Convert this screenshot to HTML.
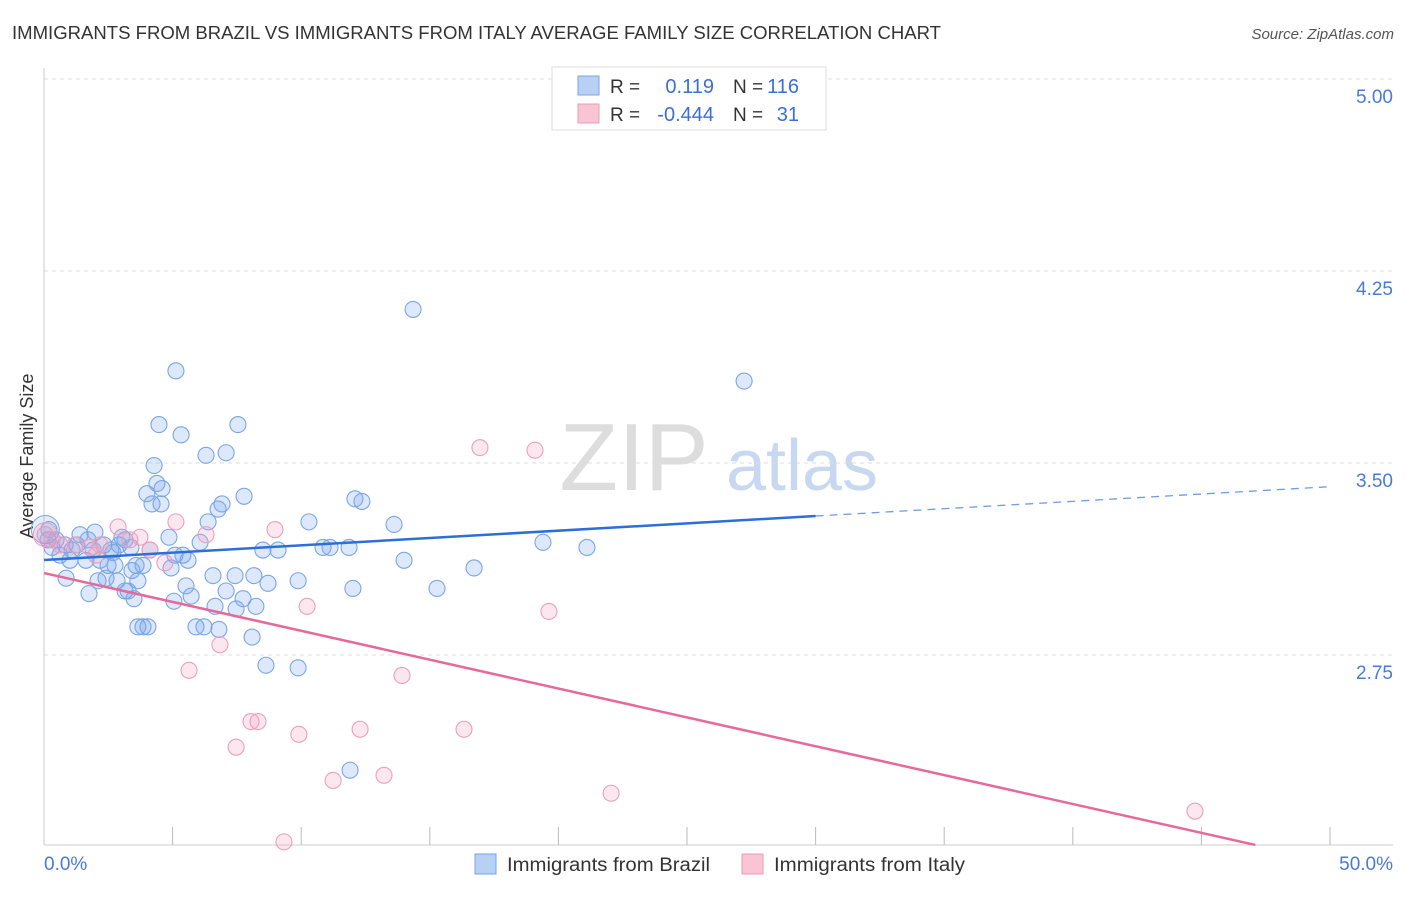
<!DOCTYPE html>
<html><head><meta charset="utf-8"><style>
body{margin:0;background:#fff;font-family:"Liberation Sans",sans-serif;}
svg text{font-family:"Liberation Sans",sans-serif;}
</style></head><body>
<svg id="chart" width="1406" height="892" viewBox="0 0 1406 892" xmlns="http://www.w3.org/2000/svg">
<text x="12" y="39" font-size="18" fill="#333" textLength="929" lengthAdjust="spacingAndGlyphs">IMMIGRANTS FROM BRAZIL VS IMMIGRANTS FROM ITALY AVERAGE FAMILY SIZE CORRELATION CHART</text>
<text x="1394" y="39" font-size="15" fill="#555" text-anchor="end" font-style="italic">Source: ZipAtlas.com</text>
<g>
<text x="634" y="490" font-size="96" fill="#ddd" text-anchor="middle" font-family="Liberation Serif, serif">ZIP</text>
<text x="802" y="490" font-size="72" fill="#c8d8f0" text-anchor="middle">atlas</text>
</g>
<text transform="translate(33,456) rotate(-90)" font-size="18" fill="#333" text-anchor="middle">Average Family Size</text>
<g id="grid"></g>
<g id="marks"></g>
<g>
<rect x="552" y="67" width="274" height="63" fill="#fff" stroke="#ddd"/>
<rect x="578" y="76" width="21" height="19" fill="#b8d0f4" stroke="#7aa4e4"/>
<rect x="578" y="104" width="21" height="19" fill="#f9c4d4" stroke="#ec9cb6"/>
<text x="610" y="93" font-size="19" fill="#333">R =</text>
<text x="714" y="93" font-size="20" fill="#3b6fd6" text-anchor="end">0.119</text>
<text x="733" y="93" font-size="19" fill="#333">N =</text>
<text x="799" y="93" font-size="20" fill="#3b6fd6" text-anchor="end">116</text>
<text x="610" y="121" font-size="19" fill="#333">R =</text>
<text x="714" y="121" font-size="20" fill="#3b6fd6" text-anchor="end">-0.444</text>
<text x="733" y="121" font-size="19" fill="#333">N =</text>
<text x="799" y="121" font-size="20" fill="#3b6fd6" text-anchor="end">31</text>
</g>
<g>
<rect x="475" y="854" width="21" height="20" fill="#b8d0f4" stroke="#7aa4e4"/>
<text x="507" y="871" font-size="19" fill="#333" textLength="203" lengthAdjust="spacingAndGlyphs">Immigrants from Brazil</text>
<rect x="742" y="854" width="21" height="20" fill="#f9c4d4" stroke="#ec9cb6"/>
<text x="774" y="871" font-size="19" fill="#333" textLength="191" lengthAdjust="spacingAndGlyphs">Immigrants from Italy</text>
</g>
</svg>
<script>
const yTicks=[5.00,4.25,3.50,2.75];
const yTickLabels=["5.00","4.25","3.50","2.75"];
const xTickCount=10;
const xLabels=["0.0%","50.0%"];
const brazilX=[14.35,5.13,27.22,7.54,4.47,5.33,7.08,6.30,4.28,4.39,4.00,4.59,7.78,4.20,4.55,6.92,6.77,12.09,12.36,6.38,10.30,13.61,4.86,19.40,21.11,0.19,0.47,0.82,1.09,1.40,1.71,1.98,2.33,2.60,2.92,3.15,3.38,4.12,5.09,5.40,6.07,8.51,9.10,10.85,11.12,11.86,14.00,16.72,0.62,1.01,1.63,2.18,2.49,2.76,3.58,3.85,4.94,5.60,0.86,2.10,2.41,2.84,3.27,3.65,3.42,6.57,7.43,8.16,9.88,12.01,15.28,8.71,5.52,7.08,1.75,3.15,3.50,5.05,5.72,6.65,7.47,7.74,8.24,3.65,3.85,4.04,5.91,6.22,6.80,8.09,8.63,9.88,11.90,0.16,0.31,1.28,1.91,3.03,2.68];
const brazilY=[4.10,3.86,3.82,3.65,3.65,3.61,3.54,3.53,3.49,3.42,3.38,3.40,3.37,3.34,3.34,3.34,3.32,3.36,3.35,3.27,3.27,3.26,3.21,3.19,3.17,3.24,3.20,3.18,3.16,3.22,3.20,3.23,3.18,3.16,3.18,3.20,3.17,3.16,3.14,3.14,3.19,3.16,3.16,3.17,3.17,3.17,3.12,3.09,3.14,3.12,3.12,3.12,3.10,3.10,3.10,3.10,3.09,3.12,3.05,3.04,3.05,3.04,3.00,3.04,3.08,3.06,3.06,3.06,3.04,3.01,3.01,3.03,3.02,3.00,2.99,3.00,2.97,2.96,2.98,2.94,2.93,2.97,2.94,2.86,2.86,2.86,2.86,2.86,2.85,2.82,2.71,2.70,2.30,3.20,3.17,3.18,3.16,3.21,3.15];
const italyX=[0.04,0.31,0.62,1.21,1.79,2.18,2.88,3.73,4.12,4.70,5.13,6.30,8.98,16.95,19.09,10.23,19.63,5.64,6.84,13.92,8.05,8.32,7.47,9.91,12.29,16.33,11.24,13.22,22.05,44.75,9.33,3.34,2.02];
const italyY=[3.22,3.20,3.18,3.18,3.17,3.18,3.25,3.21,3.16,3.11,3.27,3.22,3.24,3.56,3.55,2.94,2.92,2.69,2.79,2.67,2.49,2.49,2.39,2.44,2.46,2.46,2.26,2.28,2.21,2.14,2.02,3.20,3.14];
const brazilTrend=[3.121,0.00573];
const italyTrend=[3.07,-0.02255];
const brazilSolidEnd=30;

const NS="http://www.w3.org/2000/svg";
const X0=44,X1=1330,Y0=79,PXU=256;
function sx(v){return X0+(v/50)*(X1-X0);}
function sy(v){return Y0+(5-v)*PXU;}
function mk(tag,attrs,parent){const e=document.createElementNS(NS,tag);for(const k in attrs)e.setAttribute(k,attrs[k]);parent.appendChild(e);return e;}
const grid=document.getElementById('grid'),marks=document.getElementById('marks');
yTicks.forEach((t,i)=>{
 const l=mk('line',{x1:44,x2:1393,y1:sy(t),y2:sy(t),stroke:'#ddd','stroke-dasharray':'4,4'},grid);
 
 
 const tx=mk('text',{x:1393,y:sy(t)+24,'font-size':19,fill:'#4a7ad8','text-anchor':'end'},grid);
 tx.textContent=yTickLabels[i];
 
 
});
const ax=mk('line',{x1:44,x2:44,y1:68,y2:845,stroke:'#ccc'},grid);


const bx=mk('line',{x1:44,x2:1393,y1:845,y2:845,stroke:'#ccc'},grid);


for(let i=1;i<=xTickCount;i++){
 const t=mk('line',{x1:sx(i*5),x2:sx(i*5),y1:827,y2:845,stroke:'#bbb'},grid);
 
 
}
const xl0=mk('text',{x:44,y:870,'font-size':19,fill:'#4a7ad8'},grid);xl0.textContent=xLabels[0];


const xl1=mk('text',{x:1393,y:870,'font-size':19,fill:'#4a7ad8','text-anchor':'end'},grid);xl1.textContent=xLabels[1];



brazilX.forEach((x,i)=>{
 const c=mk('circle',{cx:sx(x),cy:sy(brazilY[i]),r:8,fill:'rgba(120,165,235,0.25)',stroke:'#7aa6e6','stroke-width':1.1},marks);
 
 
});
italyX.forEach((x,i)=>{
 const c=mk('circle',{cx:sx(x),cy:sy(italyY[i]),r:8,fill:'rgba(242,160,190,0.25)',stroke:'#ec9fbb','stroke-width':1.1},marks);
 
 
});
const big1=mk('circle',{cx:sx(0.05),cy:sy(3.24),r:14,fill:'rgba(120,165,235,0.2)',stroke:'#7aa6e6'},marks);


const big2=mk('circle',{cx:sx(0.05),cy:sy(3.22),r:12,fill:'rgba(242,160,190,0.2)',stroke:'#ec9fbb'},marks);



function bv(x){return brazilTrend[0]+brazilTrend[1]*x;}
function iv(x){return italyTrend[0]+italyTrend[1]*x;}
const bl=mk('line',{x1:sx(0),y1:sy(bv(0)),x2:sx(brazilSolidEnd),y2:sy(bv(brazilSolidEnd)),stroke:'#2c6fd8','stroke-width':2.5},marks);


const bd=mk('line',{x1:sx(brazilSolidEnd),y1:sy(bv(brazilSolidEnd)),x2:sx(50),y2:sy(bv(50)),stroke:'#6e9de2','stroke-width':1.3,'stroke-dasharray':'8,6'},marks);


const xEnd=(2.008-italyTrend[0])/italyTrend[1];
const il=mk('line',{x1:sx(0),y1:sy(iv(0)),x2:sx(xEnd),y2:sy(iv(xEnd)),stroke:'#e5699a','stroke-width':2.5},marks);


</script>
</body></html>
